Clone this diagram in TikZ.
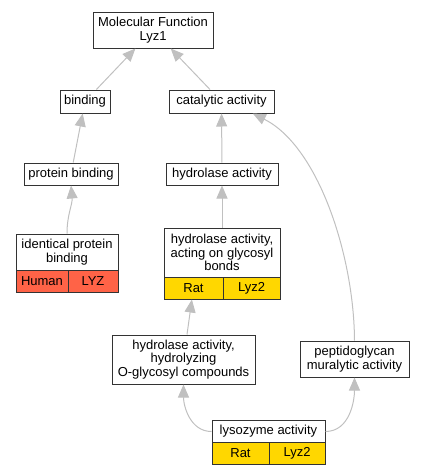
\documentclass[tikz,border=0pt]{standalone}
\usepackage{fontspec}
\setmainfont{Liberation Sans}
\usetikzlibrary{arrows.meta}
\definecolor{edgegray}{HTML}{C0C0C0}
\definecolor{boxline}{HTML}{333333}
\definecolor{humanred}{HTML}{FF6347}
\definecolor{ratgold}{HTML}{FFD700}

\begin{document}
\begin{tikzpicture}[x=1pt,y=-1pt,>={Triangle[length=13pt,width=11pt]},
  font=\fontsize{13}{13.3}\selectfont,
  term/.style={draw=boxline,fill=white,line width=1pt,align=center,inner sep=0pt},
  cell/.style={term,minimum height=22pt},
  isa/.style={->,edgegray,line width=1pt}]
\useasboundingbox (0,0) rectangle (425,475);
% GO terms
\node[term,minimum width=120pt,minimum height=36pt] (mf) at (153,30) {Molecular Function\\Lyz1};
\node[term,minimum width=50pt,minimum height=23pt] (binding) at (85,101.5) {binding};
\node[term,minimum width=105pt,minimum height=23pt] (catalytic) at (221.5,101.5) {catalytic activity};
\node[term,minimum width=94pt,minimum height=22pt] (protbind) at (71,174) {protein binding};
\node[term,minimum width=112pt,minimum height=22pt] (hydro) at (222,174) {hydrolase activity};
\node[term,minimum width=102pt,minimum height=36pt] (ident) at (67,252) {identical protein\\binding};
\node[term,minimum width=116pt,minimum height=49pt] (glyco) at (222,252.5) {hydrolase activity,\\acting on glycosyl\\bonds};
\node[term,minimum width=143pt,minimum height=49pt] (ogly) at (183.5,359.5) {hydrolase activity,\\hydrolyzing\\O-glycosyl compounds};
\node[term,minimum width=109pt,minimum height=36pt] (pept) at (354.5,359) {peptidoglycan\\muralytic activity};
\node[term,minimum width=113pt,minimum height=23pt] (lyso) at (268.5,431.5) {lysozyme activity};
% gene cells
\node[cell,fill=humanred,minimum width=52pt] (idhuman) at (42,281) {Human};
\node[cell,fill=humanred,minimum width=50pt] (idlyz) at (93,281) {LYZ};
\node[cell,fill=ratgold,minimum width=59pt] (glyrat) at (193.5,288) {Rat};
\node[cell,fill=ratgold,minimum width=57pt] (glylyz) at (251.5,288) {Lyz2};
\node[cell,fill=ratgold,minimum width=57pt] (lysorat) at (240.5,453.5) {Rat};
\node[cell,fill=ratgold,minimum width=56pt] (lysolyz) at (297,453.5) {Lyz2};
% is_a links
\draw[isa] (binding) -- (mf);
\draw[isa] (catalytic) -- (mf);
\draw[isa] (protbind) -- (binding);
\draw[isa] (ident.north) to[out=90,in=-85] (protbind.south);
\draw[isa] (hydro) -- (catalytic);
\draw[isa] (glyco) -- (hydro);
\draw[isa] (pept.north) .. controls (354,255) and (318,146) .. (catalytic.-21);
\draw[isa] (ogly) -- (glyrat);
\draw[isa] (lyso.west) to[out=180,in=-90] (ogly.south);
\draw[isa] (lyso.east) to[out=0,in=-90] (pept.south);
\end{tikzpicture}
\end{document}
